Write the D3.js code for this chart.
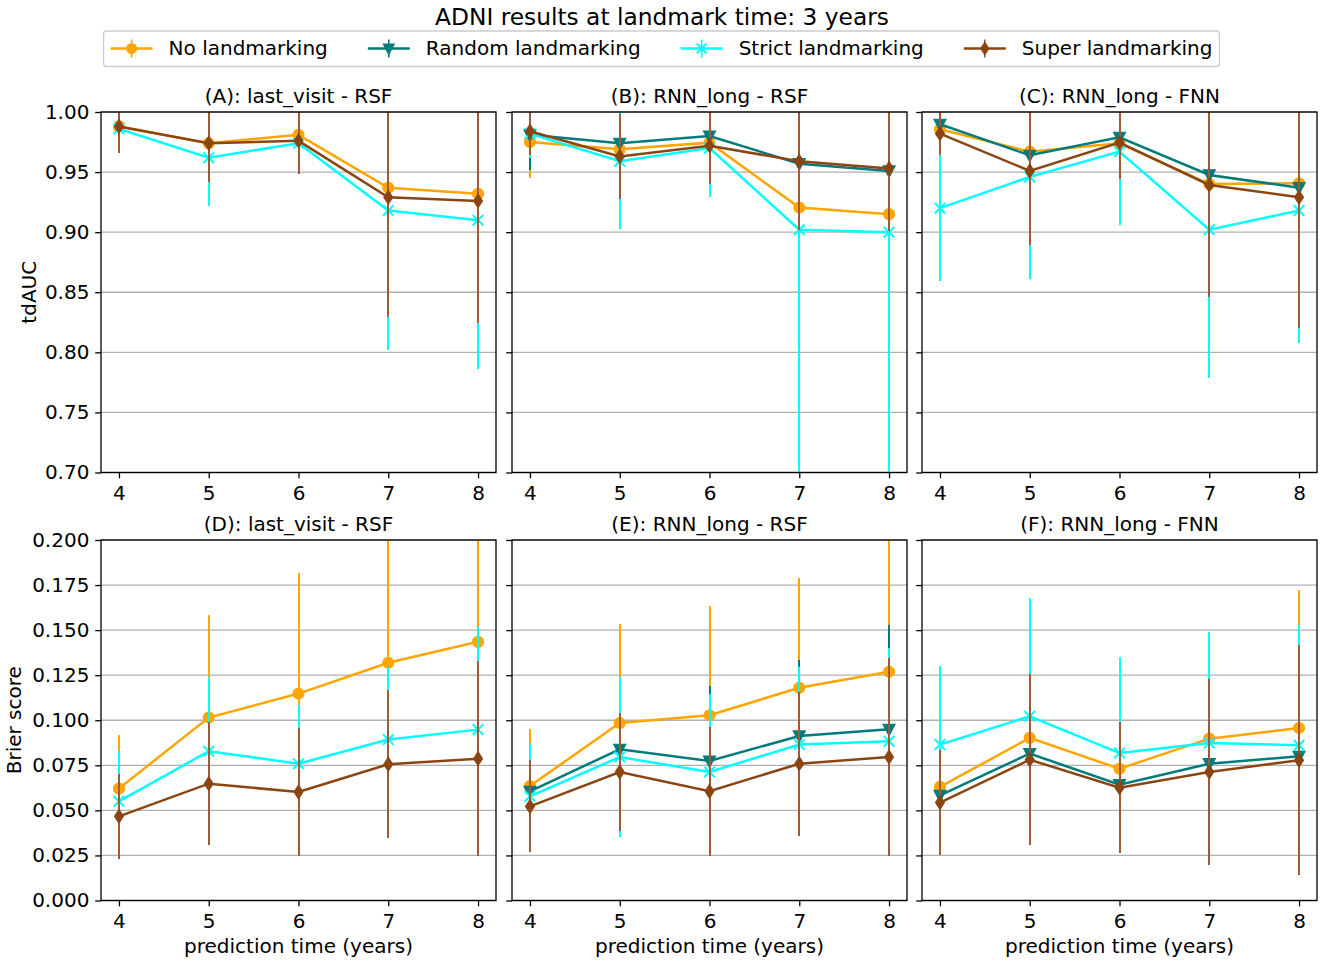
<!DOCTYPE html>
<html>
<head>
<meta charset="utf-8">
<script src="https://cdn.jsdelivr.net/npm/d3@7"></script>
<style>
  body { margin: 0; background: #fff; }
  svg { font-family: "DejaVu Sans", sans-serif; }
</style>
</head>
<body>
<svg id="chart" width="1325" height="963"></svg>
<script>
// ---- data ----
var predTimes = [4, 5, 6, 7, 8];
var methods = ["No landmarking", "Random landmarking", "Strict landmarking", "Super landmarking"];
var methodColors = ["#FFA500", "#007b7b", "#00FFFF", "#8B4513"];
var errColors = ["#FFA500", "#007b7b", "#00FFFF", "#a05a35"];
var methodMarkers = ["circle", "tri", "x", "diamond"];

var panelTitles = ["(A): last_visit - RSF", "(B): RNN_long - RSF", "(C): RNN_long - FNN",
                   "(D): last_visit - RSF", "(E): RNN_long - RSF", "(F): RNN_long - FNN"];
var aucTicks = [0.70, 0.75, 0.80, 0.85, 0.90, 0.95, 1.00];
var brierTicks = [0, 0.025, 0.05, 0.075, 0.1, 0.125, 0.15, 0.175, 0.2];

// series per panel, in method order (null = not run)
var aucA    = [[0.988, 0.974, 0.981, 0.937, 0.932], null,
               [0.986, 0.962, 0.974, 0.918, 0.910], [0.988, 0.974, 0.976, 0.929, 0.926]];
var aucAErr = [[0.015, 0.025, 0.020, 0.090, 0.095], null,
               [0.015, 0.040, 0.022, 0.116, 0.124], [0.022, 0.032, 0.028, 0.100, 0.102]];
var aucB    = [[0.975, 0.969, 0.9745, 0.9205, 0.915], [0.981, 0.974, 0.980, 0.957, 0.951],
               [0.982, 0.959, 0.970, 0.902, 0.900], [0.984, 0.963, 0.972, 0.959, 0.953]];
var aucBErr = [[0.030, 0.030, 0.028, 0.060, 0.060], [0.029, 0.035, 0.030, 0.050, 0.045],
               [0.020, 0.056, 0.041, 0.250, 0.260], [0.020, 0.035, 0.032, 0.057, 0.052]];
var aucC    = [[0.9856, 0.967, 0.974, 0.940, 0.9407], [0.9898, 0.964, 0.979, 0.9476, 0.937],
               [0.920, 0.946, 0.967, 0.902, 0.918], [0.982, 0.951, 0.9745, 0.9393, 0.929]];
var aucCErr = [[0.015, 0.050, 0.025, 0.080, 0.090], [0.020, 0.050, 0.030, 0.080, 0.090],
               [0.061, 0.085, 0.061, 0.123, 0.110], [0.018, 0.062, 0.030, 0.093, 0.109]];
var brierD    = [[0.0621, 0.1015, 0.1148, 0.1319, 0.1435], null,
                 [0.0550, 0.0828, 0.0759, 0.0893, 0.0948], [0.0467, 0.0648, 0.0602, 0.0756, 0.0787]];
var brierDErr = [[0.0296, 0.0570, 0.0667, 0.0900, 0.0750], null,
                 [0.0280, 0.0410, 0.0324, 0.0400, 0.0567], [0.0237, 0.0340, 0.0357, 0.0410, 0.0540]];
var brierE    = [[0.0635, 0.0985, 0.1028, 0.1180, 0.1269], [0.0606, 0.0839, 0.0774, 0.0913, 0.0950],
                 [0.0578, 0.0796, 0.0713, 0.0865, 0.0883], [0.0522, 0.0713, 0.0606, 0.0759, 0.0796]];
var brierEErr = [[0.0315, 0.0548, 0.0607, 0.0610, 0.0750], [0.0200, 0.0300, 0.0416, 0.0424, 0.0580],
                 [0.0290, 0.0445, 0.0435, 0.0430, 0.0520], [0.0255, 0.0328, 0.0357, 0.0400, 0.0547]];
var brierF    = [[0.0630, 0.0902, 0.0731, 0.0898, 0.0957], [0.0583, 0.0815, 0.0643, 0.0759, 0.0800],
                 [0.0865, 0.1022, 0.0818, 0.0874, 0.0861], [0.0543, 0.0781, 0.0626, 0.0713, 0.0778]];
var brierFErr = [[0.0300, 0.0400, 0.0350, 0.0450, 0.0765], [0.0250, 0.0400, 0.0300, 0.0400, 0.0500],
                 [0.0437, 0.0654, 0.0534, 0.0613, 0.0667], [0.0290, 0.0475, 0.0364, 0.0518, 0.0637]];

var panelValues = [aucA, aucB, aucC, brierD, brierE, brierF];
var panelErrors = [aucAErr, aucBErr, aucCErr, brierDErr, brierEErr, brierFErr];

// ---- layout ----
var svg = d3.select("#chart");
var axLeft = [101, 512, 922];
var axW = 395;
var rowTop = [112, 540];
var axH = 360.5;

// marker path generator, centred on 0,0
var markerPath = function (kind, s) {
    s = s || 1;
    if (kind === "circle")
        return d3.symbol().type(d3.symbolCircle).size(Math.PI * 30 * s * s)();
    if (kind === "tri")
        return "M" + (-6 * s) + "," + (-5 * s) + "L" + (6 * s) + "," + (-5 * s) + "L0," + (6.5 * s) + "Z";
    if (kind === "diamond")
        return "M0," + (-6.8 * s) + "L" + (4.4 * s) + ",0L0," + (6.8 * s) + "L" + (-4.4 * s) + ",0Z";
    // x marker
    var r = 5.3 * s;
    return "M" + (-r) + "," + (-r) + "L" + r + "," + r + "M" + (-r) + "," + r + "L" + r + "," + (-r);
};

var drawMarker = function (g, i, x, y, s) {
    var kind = methodMarkers[i];
    g.append("path")
        .attr("d", markerPath(kind, s))
        .attr("transform", "translate(" + x + "," + y + ")")
        .style("fill", kind === "x" ? "none" : methodColors[i])
        .style("stroke", methodColors[i])
        .style("stroke-width", kind === "x" ? 2 : 1.2);
};

panelValues.forEach(function (vals, p) {
    var row = p < 3 ? 0 : 1;
    var col = p % 3;
    var x0 = axLeft[col], y0 = rowTop[row];

    var x = d3.scaleLinear().domain([3.8, 8.2]).range([x0, x0 + axW]);
    var y = row === 0
        ? d3.scaleLinear().domain([0.70, 1.00]).range([y0 + axH, y0])
        : d3.scaleLinear().domain([0, 0.2]).range([y0 + axH, y0]);
    var ticks = row === 0 ? aucTicks : brierTicks;
    var fmt = row === 0 ? d3.format(".2f") : d3.format(".3f");

    var g = svg.append("g").attr("class", "panel");

    // horizontal grid
    g.selectAll(".grid").data(ticks).enter()
        .append("line")
        .attr("class", "grid")
        .attr("x1", x0).attr("x2", x0 + axW)
        .attr("y1", function (d) { return y(d); })
        .attr("y2", function (d) { return y(d); })
        .style("stroke", "#b0b0b0")
        .style("stroke-width", 1.3);

    var clipId = "clip" + p;
    svg.append("clipPath").attr("id", clipId)
        .append("rect").attr("x", x0).attr("y", y0).attr("width", axW).attr("height", axH);

    var data = g.append("g").attr("clip-path", "url(#" + clipId + ")");
    var line = d3.line()
        .x(function (d, i) { return x(predTimes[i]); })
        .y(function (d) { return y(d); });

    vals.forEach(function (series, m) {
        if (!series) return;
        var errs = panelErrors[p][m];
        var sg = data.append("g").attr("class", "series");
        sg.append("path")
            .attr("d", line(series))
            .style("fill", "none")
            .style("stroke", methodColors[m])
            .style("stroke-width", 2.5);
        // snapped to whole pixels so later bars cover earlier ones fully
        sg.selectAll(".err").data(series).enter()
            .append("line")
            .attr("class", "err")
            .attr("x1", function (d, i) { return Math.round(x(predTimes[i])); })
            .attr("x2", function (d, i) { return Math.round(x(predTimes[i])); })
            .attr("y1", function (d, i) { return y(d - errs[i]); })
            .attr("y2", function (d, i) { return y(d + errs[i]); })
            .attr("shape-rendering", "crispEdges")
            .style("stroke", errColors[m])
            .style("stroke-width", 2);
        series.forEach(function (d, i) {
            drawMarker(sg, m, x(predTimes[i]), y(d), 1);
        });
    });

    // frame
    g.append("rect")
        .attr("x", x0).attr("y", y0).attr("width", axW).attr("height", axH)
        .style("fill", "none").style("stroke", "#000").style("stroke-width", 1.3);

    // axes
    var yAxis = d3.axisLeft(y).tickValues(ticks).tickSize(5.8).tickPadding(5.8)
        .tickFormat(col === 0 ? fmt : "");
    var ya = g.append("g").attr("transform", "translate(" + x0 + ",0)").call(yAxis);
    var xAxis = d3.axisBottom(x).tickValues(predTimes).tickSize(5.8).tickPadding(7.5)
        .tickFormat(d3.format("d"));
    var xa = g.append("g").attr("transform", "translate(0," + (y0 + axH) + ")").call(xAxis);
    [ya, xa].forEach(function (a) {
        a.select(".domain").remove();
        a.selectAll(".tick line").style("stroke", "#000").style("stroke-width", 1.3);
        a.selectAll(".tick text").style("font-size", "20px").style("fill", "#000")
            .style("font-family", "DejaVu Sans");
    });

    // panel title
    g.append("text")
        .attr("x", x0 + axW / 2).attr("y", y0 - 9.5)
        .attr("text-anchor", "middle")
        .style("font-size", "20px")
        .text(panelTitles[p]);

    if (row === 1) {
        g.append("text")
            .attr("x", x0 + axW / 2).attr("y", 953)
            .attr("text-anchor", "middle")
            .style("font-size", "20px")
            .text("prediction time (years)");
    }
});

// y labels
svg.append("text")
    .attr("transform", "translate(36," + (rowTop[0] + axH / 2) + ") rotate(-90)")
    .attr("text-anchor", "middle").style("font-size", "20px").text("tdAUC");
svg.append("text")
    .attr("transform", "translate(21," + (rowTop[1] + axH / 2) + ") rotate(-90)")
    .attr("text-anchor", "middle").style("font-size", "20px").text("Brier score");

// suptitle
svg.append("text")
    .attr("x", 662).attr("y", 25)
    .attr("text-anchor", "middle")
    .style("font-size", "23.3px")
    .text("ADNI results at landmark time: 3 years");

// legend, one row of four entries
var legend = svg.append("g");
var legendBox = legend.append("rect");
var entries = legend.append("g");
var cx = 0;
methods.forEach(function (name, i) {
    var e = entries.append("g").attr("transform", "translate(" + cx + ",0)");
    e.append("line").attr("x1", 0).attr("x2", 42).attr("y1", 0).attr("y2", 0)
        .style("stroke", methodColors[i]).style("stroke-width", 2.5);
    e.append("line").attr("x1", 21).attr("x2", 21).attr("y1", -9).attr("y2", 9)
        .style("stroke", errColors[i]).style("stroke-width", 1.6);
    drawMarker(e, i, 21, 0, 0.9);
    var t = e.append("text").attr("x", 58).attr("y", 6.8)
        .style("font-size", "20px").text(name);
    cx += 58 + t.node().getComputedTextLength() + 40;
});
var legendW = cx - 40 + 14;
var lx = 661.5 - legendW / 2;
entries.attr("transform", "translate(" + (lx + 7) + ",48.5)");
legendBox.attr("x", lx).attr("y", 31).attr("width", legendW).attr("height", 35.5)
    .attr("rx", 3)
    .style("fill", "#fff").style("stroke", "#cccccc").style("stroke-width", 1.3);
</script>
</body>
</html>
